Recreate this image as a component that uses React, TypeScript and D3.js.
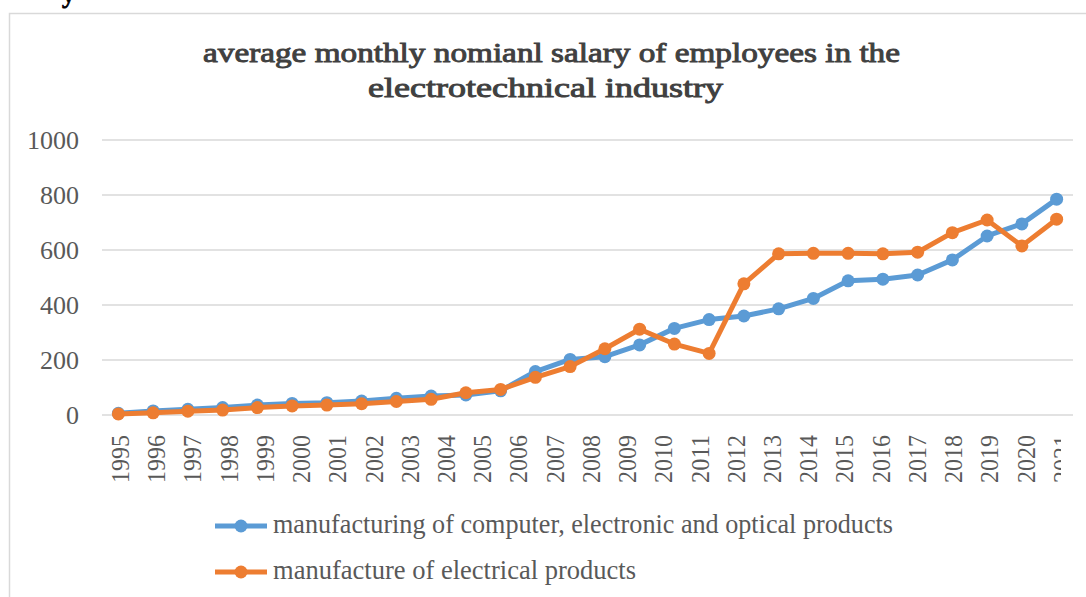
import { useEffect, useRef } from 'react';
import * as d3 from 'd3';

// x axis labels (27) -- the plotted series carry 28 points, as in the source picture
const years = [
  '1995', '1996', '1997', '1998', '1999', '2000', '2001', '2002', '2003',
  '2004', '2005', '2006', '2007', '2008', '2009', '2010', '2011', '2012',
  '2013', '2014', '2015', '2016', '2017', '2018', '2019', '2020', '2021',
];

const computerValues = [
  6, 15, 21, 27, 36, 42, 45, 51, 61, 69, 73, 88, 158, 202, 212, 255, 315, 347,
  360, 386, 424, 488, 494, 509, 564, 651, 695, 785,
];

const electricalValues = [
  4, 8, 14, 18, 27, 33, 36, 41, 49, 57, 81, 93, 137, 176, 241, 312, 258, 224,
  477, 586, 588, 588, 586, 592, 663, 709, 615, 712,
];

const yTicks = [0, 200, 400, 600, 800, 1000];

const seriesNames = [
  'manufacturing of computer, electronic and optical products',
  'manufacture of electrical products',
];

const titleLines = [
  'average monthly nomianl salary of employees in the',
  'electrotechnical industry',
];

const WIDTH = 1086;
const HEIGHT = 597;
const FONT = '"Liberation Serif", "Times New Roman", serif';

export default function App() {
  const ref = useRef<SVGSVGElement | null>(null);

  useEffect(() => {
    if (!ref.current) return;
    const svg = d3.select(ref.current);
    svg.selectAll('*').remove();

    const left = 101;
    const right = 1074;
    const top = 140;
    const bottom = 415;

    const y = d3.scaleLinear().domain([0, 1000]).range([bottom, top]);
    const x = d3
      .scalePoint<number>()
      .domain(d3.range(computerValues.length))
      .range([left, right])
      .padding(0.5);
    const xLabel = d3
      .scalePoint<string>()
      .domain(years)
      .range([left + 1, right + 6])
      .padding(0.5);

    // chart frame (cut by the picture edges)
    svg
      .append('path')
      .attr('d', `M9.5,${HEIGHT} V13.5 H${WIDTH}`)
      .attr('fill', 'none')
      .attr('stroke', '#d9d9d9')
      .attr('stroke-width', 1.5);

    // piece of the document text above the chart
    svg
      .append('text')
      .attr('x', 62)
      .attr('y', 3)
      .style('font-family', FONT)
      .style('font-size', '26px')
      .style('fill', '#000')
      .style('stroke', '#000')
      .style('stroke-width', 0.8)
      .text('y');

    // title (regular face with a stroke, to get a Times-like bold)
    const titleX = [203, 368];
    const titleLen = [697, 355];
    const titleY = [62, 97];
    titleLines.forEach((t, i) => {
      svg
        .append('text')
        .attr('x', titleX[i])
        .attr('y', titleY[i])
        .attr('textLength', titleLen[i])
        .attr('lengthAdjust', 'spacingAndGlyphs')
        .style('font-family', FONT)
        .style('font-size', '27px')
        .style('fill', '#404040')
        .style('stroke', '#404040')
        .style('stroke-width', 0.9)
        .text(t);
    });

    // gridlines
    svg
      .append('g')
      .selectAll('line')
      .data(yTicks)
      .enter()
      .append('line')
      .attr('x1', left + 1)
      .attr('x2', right - 1)
      .attr('y1', (d) => y(d))
      .attr('y2', (d) => y(d))
      .attr('stroke', '#d9d9d9')
      .attr('stroke-width', 1.5);

    // y tick labels
    svg
      .append('g')
      .selectAll('text')
      .data(yTicks)
      .enter()
      .append('text')
      .attr('x', 79)
      .attr('y', (d) => y(d))
      .attr('dy', '0.34em')
      .attr('text-anchor', 'end')
      .style('font-family', FONT)
      .style('font-size', '26px')
      .style('fill', '#595959')
      .text((d) => String(d));

    // x tick labels, rotated; the last one is cut as in the source
    const defs = svg.append('defs');
    defs
      .append('clipPath')
      .attr('id', 'xclip')
      .append('rect')
      .attr('x', 0)
      .attr('y', 0)
      .attr('width', 1061)
      .attr('height', HEIGHT);

    svg
      .append('g')
      .attr('clip-path', 'url(#xclip)')
      .selectAll('text')
      .data(years)
      .enter()
      .append('text')
      .attr('transform', (d) => `translate(${xLabel(d)},435) rotate(-90)`)
      .attr('text-anchor', 'end')
      .attr('dy', '0.34em')
      .attr('textLength', 48)
      .attr('lengthAdjust', 'spacingAndGlyphs')
      .style('font-family', FONT)
      .style('font-size', '26px')
      .style('fill', '#595959')
      .text((d) => d);

    const series = [
      { values: computerValues, color: '#5b9bd5' },
      { values: electricalValues, color: '#ed7d31' },
    ];

    const line = d3
      .line<number>()
      .x((_, i) => x(i) as number)
      .y((d) => y(d));

    series.forEach((s) => {
      const g = svg.append('g');
      g.append('path')
        .attr('d', line(s.values))
        .attr('fill', 'none')
        .attr('stroke', s.color)
        .attr('stroke-width', 5)
        .attr('stroke-linejoin', 'round')
        .attr('stroke-linecap', 'round');
      g.selectAll('circle')
        .data(s.values)
        .enter()
        .append('circle')
        .attr('cx', (_, i) => x(i) as number)
        .attr('cy', (d) => y(d))
        .attr('r', 6.5)
        .attr('fill', s.color);
    });

    // legend
    const legendY = [526, 572];
    const legendLen = [620, 363];
    series.forEach((s, i) => {
      const g = svg.append('g').attr('transform', `translate(0,${legendY[i]})`);
      g.append('line')
        .attr('x1', 215)
        .attr('x2', 267)
        .attr('stroke', s.color)
        .attr('stroke-width', 5);
      g.append('circle').attr('cx', 241).attr('r', 6.5).attr('fill', s.color);
      g.append('text')
        .attr('x', 273)
        .attr('y', 7)
        .attr('textLength', legendLen[i])
        .attr('lengthAdjust', 'spacingAndGlyphs')
        .style('font-family', FONT)
        .style('font-size', '27px')
        .style('fill', '#595959')
        .text(seriesNames[i]);
    });
  }, []);

  return (
    <svg
      ref={ref}
      width={WIDTH}
      height={HEIGHT}
      style={{ position: 'absolute', left: 0, top: 0, background: '#fff' }}
    />
  );
}
